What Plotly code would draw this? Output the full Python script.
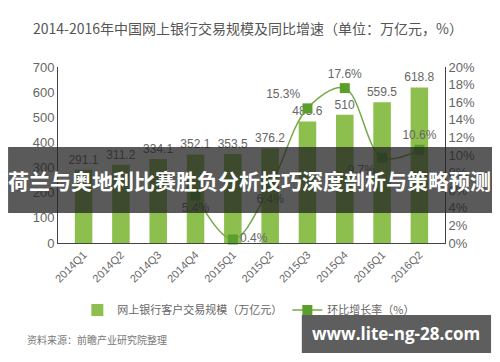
import plotly.graph_objects as go

categories = ["2014Q1", "2014Q2", "2014Q3", "2014Q4", "2015Q1",
              "2015Q2", "2015Q3", "2015Q4", "2016Q1", "2016Q2"]
volume = [291.1, 311.2, 334.1, 352.1, 353.5, 376.2, 483.6, 510, 559.5, 618.8]
growth = [None, None, None, 5.4, 0.4, 6.4, 15.3, 17.6, 9.7, 10.6]
growth_pos = ["top center", "top center", "top center", "bottom center", "middle right",
              "bottom center", "top left", "top center", "bottom left", "top center"]

title_text = "2014-2016年中国网上银行交易规模及同比增速（单位：万亿元，%）"
bar_name = "网上银行客户交易规模（万亿元）"
line_name = "环比增长率（%）"
source_text = "资料来源：前瞻产业研究院整理"
banner_text = "荷兰与奥地利比赛胜负分析技巧深度剖析与策略预测"
watermark_text = "www.lite-ng-28.com"

FONT = "Liberation Sans, Noto Sans CJK SC, sans-serif"
CJK = "Noto Sans CJK SC, sans-serif"
GRAY = "#666666"

fig = go.Figure()
fig.add_trace(go.Bar(
    x=categories, y=volume, name=bar_name,
    marker=dict(color="#8dbf4e", line=dict(width=0)),
    width=0.47,
    text=[str(v) for v in volume], textposition="outside",
    constraintext="none",
    textfont=dict(size=12, color=GRAY, family=FONT),
    cliponaxis=False,
))
fig.add_trace(go.Scatter(
    x=categories, y=growth, name=line_name, yaxis="y2",
    mode="lines+markers+text",
    line=dict(color="#76a845", width=1.5, shape="spline", smoothing=1.0),
    marker=dict(symbol="square", size=10, color="#5a9e2c"),
    text=[("" if g is None else f"{g}%") for g in growth],
    textposition=growth_pos,
    textfont=dict(size=12, color=GRAY, family=FONT),
    connectgaps=False, cliponaxis=False,
))

# the page body has an 8px margin, so the figure is sized to fit the window exactly
fig.update_layout(
    width=484, height=346,
    margin=dict(l=50, r=47, t=59, b=111, autoexpand=False),
    paper_bgcolor="white", plot_bgcolor="white",
    font=dict(family=FONT, color=GRAY),
    showlegend=True,
    legend=dict(orientation="h", x=0.05, xanchor="left", y=-0.38, yanchor="middle",
                font=dict(size=11, color=GRAY, family=CJK), itemwidth=30,
                bgcolor="rgba(0,0,0,0)"),
    xaxis=dict(type="category", tickangle=-45, tickfont=dict(size=11, color=GRAY),
               showline=True, linecolor="#444", linewidth=1, ticks="",
               showgrid=False, zeroline=False, automargin=False),
    yaxis=dict(range=[0, 700], dtick=100, tickfont=dict(size=13, color=GRAY),
               showline=True, linecolor="#444", linewidth=1, showgrid=False,
               zeroline=False, ticks="", automargin=False),
    yaxis2=dict(range=[0, 20], dtick=2, ticksuffix="%", overlaying="y", side="right",
                tickfont=dict(size=13, color=GRAY), showline=True, linecolor="#444",
                linewidth=1, showgrid=False, zeroline=False, ticks="", automargin=False),
    bargap=0.5,
)

annotations = [
    dict(text=title_text, x=0.49, y=1.22, xref="paper", yref="paper",
         showarrow=False, font=dict(size=14, color="#555555", family=CJK),
         xanchor="center", yanchor="middle"),
    dict(text=source_text, x=-0.085, y=-0.55, xref="paper", yref="paper",
         showarrow=False, font=dict(size=10, color="#777777", family=CJK),
         xanchor="left", yanchor="middle"),
    dict(text="<b>" + banner_text + "</b>", x=0.496, y=0.36, xref="paper", yref="paper",
         showarrow=False, font=dict(size=21, color="white", family=CJK),
         xanchor="center", yanchor="middle"),
    dict(text="<b>" + watermark_text + "</b>", x=0.874, y=-0.517, xref="paper", yref="paper",
         showarrow=False, font=dict(size=17, color="white", family="Open Sans, sans-serif"),
         xanchor="center", yanchor="middle"),
]
fig.update_layout(annotations=annotations)

fig.update_layout(shapes=[
    dict(type="rect", xref="paper", yref="paper", x0=-0.129, x1=1.124, y0=0.170, y1=0.545,
         fillcolor="rgba(35,35,35,0.75)", line=dict(width=0), layer="above"),
    dict(type="rect", xref="paper", yref="paper", x0=0.630, x1=1.119, y0=-0.625, y1=-0.409,
         fillcolor="#5e5e5e", line=dict(width=0), layer="above"),
])

fig.write_html("out.html")
